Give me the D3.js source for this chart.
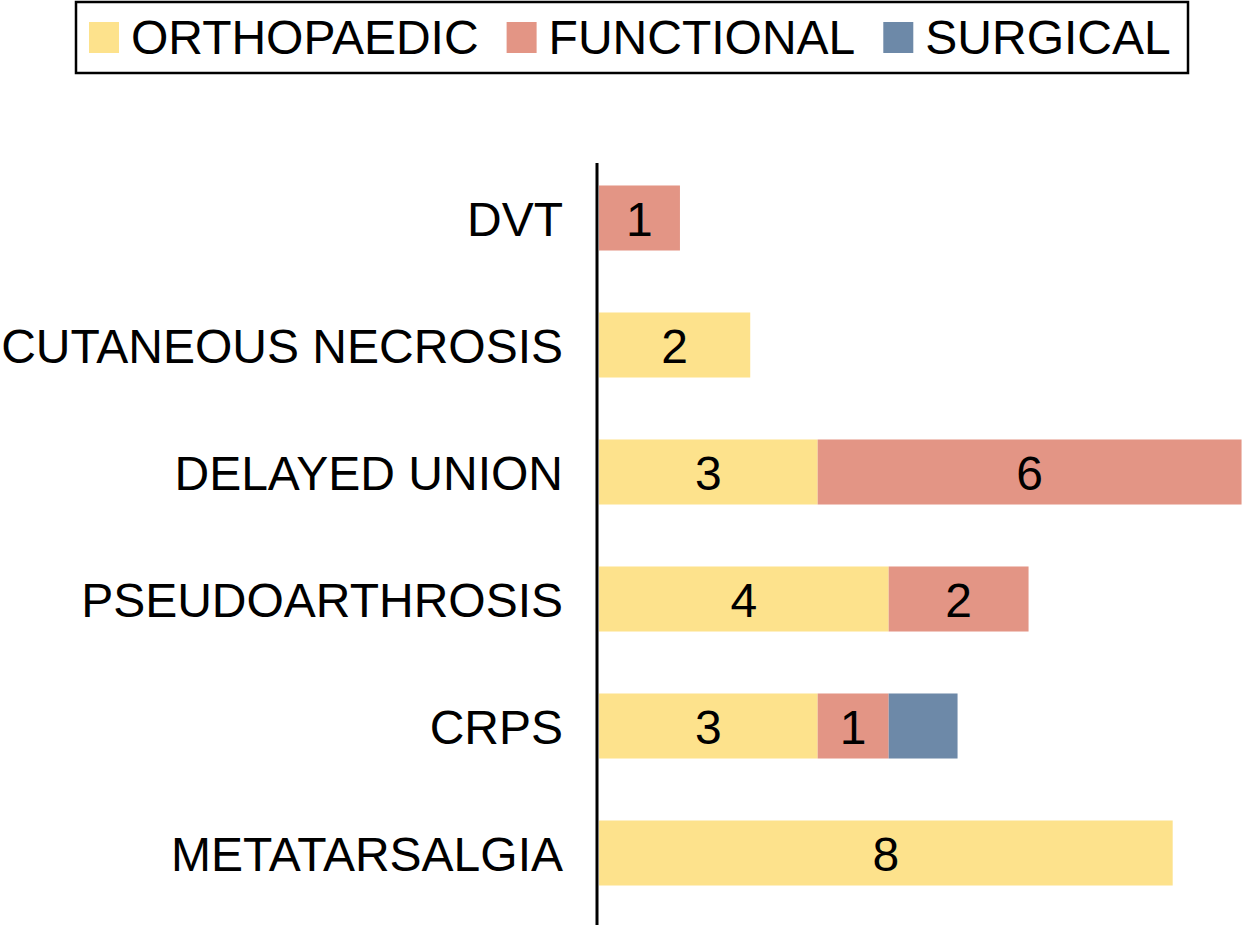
<!DOCTYPE html>
<html>
<head>
<meta charset="utf-8">
<script src="https://cdn.jsdelivr.net/npm/d3@7"></script>
<style>
  html, body { margin: 0; padding: 0; background: #ffffff; }
  svg { display: block; }
  text { font-family: "Liberation Sans", Arial, Helvetica, sans-serif; }
</style>
</head>
<body>
<div id="chart"></div>
<script>
// ---- data ----
const categories = ["DVT", "CUTANEOUS NECROSIS", "DELAYED UNION", "PSEUDOARTHROSIS", "CRPS", "METATARSALGIA"];
const seriesNames = ["ORTHOPAEDIC", "FUNCTIONAL", "SURGICAL"];
// bar lengths (count units)
const orthopaedicValues = [0, 2.13, 3.08, 4.08, 3.08, 8.08];
const functionalValues  = [1.14, 0, 5.97, 1.97, 1.0, 0];
const surgicalValues    = [0, 0, 0, 0, 0.97, 0];
// printed counts
const orthopaedicLabels = [null, 2, 3, 4, 3, 8];
const functionalLabels  = [1, null, 6, 2, 1, null];
const surgicalLabels    = [null, null, null, null, null, null];
const seriesColors = ["#FDE28C", "#E39585", "#6D89A8"];

const W = 1242, H = 925;
const svg = d3.select("#chart").append("svg").attr("width", W).attr("height", H);

const rows = categories.map((c, i) => ({
  cat: c,
  ORTHOPAEDIC: orthopaedicValues[i],
  FUNCTIONAL: functionalValues[i],
  SURGICAL: surgicalValues[i]
}));
const labelSets = [orthopaedicLabels, functionalLabels, surgicalLabels];

const stack = d3.stack().keys(seriesNames);
const stacked = stack(rows);

const x = d3.scaleLinear().domain([0, 9]).range([599, 1238]);
const y = d3.scaleBand().domain(categories).range([154.5, 916.5]).paddingInner(0.488).paddingOuter(0.244);
const color = d3.scaleOrdinal().domain(seriesNames).range(seriesColors);

const fs = 48;

// bars
const layers = svg.append("g").selectAll("g").data(stacked).join("g")
  .attr("fill", d => color(d.key));
layers.selectAll("rect").data(d => d.map(s => ({s, key: d.key})))
  .join("rect")
  .attr("x", d => x(d.s[0]))
  .attr("y", d => y(d.s.data.cat))
  .attr("width", d => Math.max(0, x(d.s[1]) - x(d.s[0])))
  .attr("height", y.bandwidth());

// value labels
stacked.forEach((layer, li) => {
  svg.append("g").selectAll("text")
    .data(layer.map((s, i) => ({s, label: labelSets[li][i]})).filter(d => d.label !== null))
    .join("text")
    .attr("x", d => (x(d.s[0]) + x(d.s[1])) / 2)
    .attr("y", d => y(d.s.data.cat) + y.bandwidth() / 2)
    .attr("dy", "0.37em")
    .attr("text-anchor", "middle")
    .attr("font-size", fs)
    .attr("fill", "#000")
    .text(d => d.label);
});

// y axis (labels + vertical line)
const yAxis = d3.axisLeft(y).tickSize(0).tickPadding(0);
const ag = svg.append("g").attr("transform", "translate(563,0)").call(yAxis);
ag.select(".domain").remove();
ag.selectAll("text").attr("font-size", fs).attr("fill", "#000")
  .attr("font-family", "'Liberation Sans', Arial, Helvetica, sans-serif")
  .attr("dy", "0.37em");

svg.append("line")
  .attr("x1", 597).attr("x2", 597)
  .attr("y1", 163).attr("y2", H)
  .attr("stroke", "#000").attr("stroke-width", 3);

// legend
const lg = svg.append("g");
lg.append("rect").attr("x", 76).attr("y", 2).attr("width", 1112).attr("height", 71)
  .attr("fill", "none").attr("stroke", "#000").attr("stroke-width", 2.5);
let cx = 89;
seriesNames.forEach((name, i) => {
  lg.append("rect").attr("x", cx).attr("y", 22).attr("width", 30).attr("height", 31)
    .attr("fill", color(name));
  const t = lg.append("text").attr("x", cx + 42).attr("y", 54)
    .attr("font-size", fs).attr("fill", "#000").text(name);
  const w = t.node().getComputedTextLength();
  cx = cx + 42 + w + 28;
});
</script>
</body>
</html>
